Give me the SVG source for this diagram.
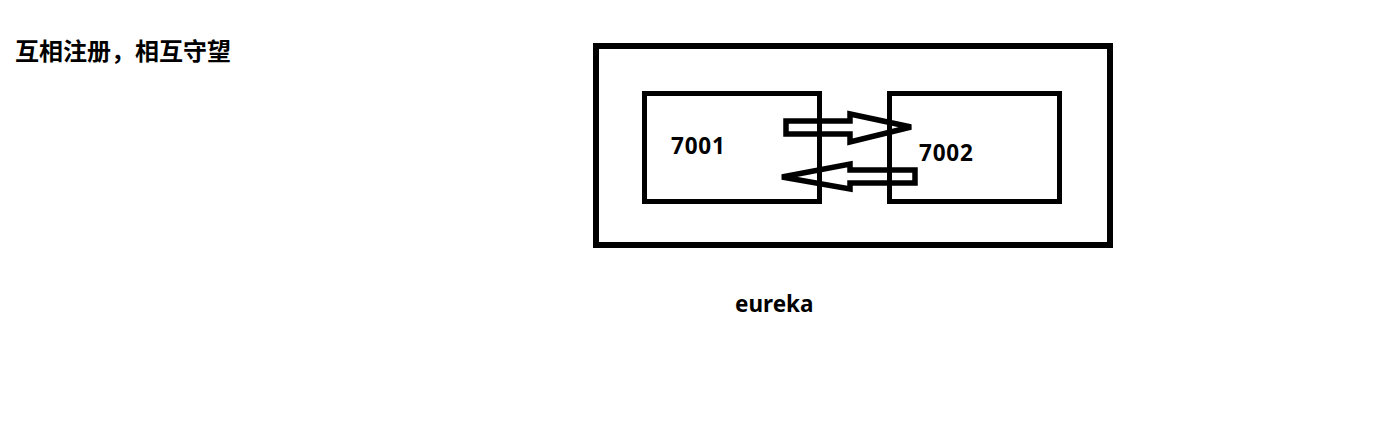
<svg xmlns="http://www.w3.org/2000/svg" width="1377" height="421" viewBox="0 0 1377 421">
<style>
.box{fill:none;stroke:#000;stroke-width:5}
.arrow{fill:none;stroke:#000;stroke-width:5.5;stroke-linejoin:miter}
.lbl{font-family:"Noto Sans","Liberation Sans",sans-serif;font-weight:700;font-size:22.5px;fill:#000}
.num{letter-spacing:0.8px}
.title{font-family:"Noto Sans CJK SC","Noto Sans",sans-serif;font-weight:700;font-size:24px;fill:#000}
</style>
<rect width="1377" height="421" fill="#fff"/>
<g id="title"><text class="title" x="15" y="60">互相注册，相互守望</text></g>
<g id="eureka">
<rect class="box" x="596" y="46" width="514" height="199" style="stroke-width:6"/>
<text class="lbl" x="735" y="312">eureka</text>
</g>
<g id="n7001">
<rect class="box" x="644.5" y="93.5" width="175" height="108"/>
<text class="lbl num" x="671" y="154">7001</text>
</g>
<g id="n7002">
<rect class="box" x="889.5" y="93.5" width="170" height="108"/>
<text class="lbl num" x="919" y="161">7002</text>
</g>
<g id="connectors">
<path class="arrow" d="M786,121 L850,121 L850,114 L911,127 L850,142 L850,134 L786,134 Z"/>
<path class="arrow" d="M915,170 L850,170 L850,164 L782,177 L850,189 L850,183 L915,183 Z"/>
</g>
</svg>
